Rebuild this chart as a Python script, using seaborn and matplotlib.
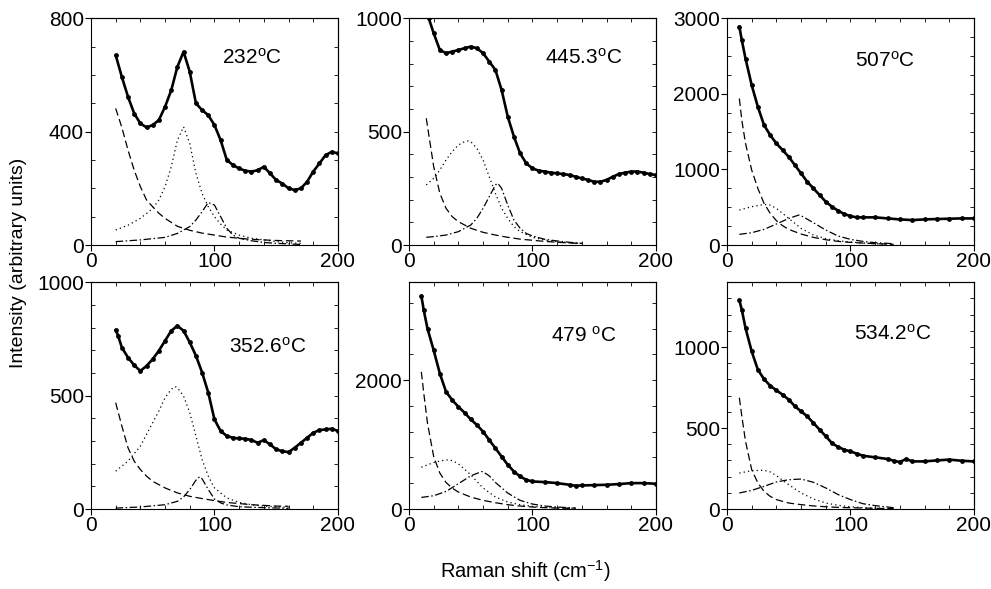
import numpy as np
import pandas as pd
import seaborn as sns
import matplotlib
matplotlib.use("Agg")
import matplotlib.pyplot as plt
from matplotlib.ticker import MultipleLocator

sns.set_style("ticks", {"axes.edgecolor": "black", "text.color": "black",
                        "xtick.color": "black", "ytick.color": "black",
                        "axes.labelcolor": "black"})
plt.rcParams['font.family'] = ['Liberation Sans', 'DejaVu Sans']
plt.rcParams['mathtext.fontset'] = 'custom'
plt.rcParams['mathtext.rm'] = 'Liberation Sans'
plt.rcParams['mathtext.it'] = 'Liberation Sans'

# ---- 232 C ----
x_232 = [20, 25, 30, 35, 40, 45, 50, 55, 60, 65, 70, 75, 80, 85, 90, 95, 100, 105, 110, 115,
         120, 125, 130, 135, 140, 145, 150, 155, 160, 165, 170, 175, 180, 185, 190, 195, 200]
y_232 = [670, 593, 523, 464, 429, 415, 423, 441, 488, 546, 629, 682, 611, 500, 476, 458, 423, 370, 300, 282,
         270, 262, 259, 264, 276, 253, 229, 217, 200, 194, 200, 223, 259, 288, 317, 329, 323]
bgx_232 = [20, 25, 30, 35, 40, 45, 50, 55, 60, 70, 80, 90, 100, 110, 120, 130, 140, 150, 160, 170]
bgy_232 = [482, 415, 335, 264, 206, 159, 135, 112, 94, 66, 52, 42, 35, 28, 24, 20, 18, 16, 15, 14]
p1x_232 = [20, 30, 40, 50, 55, 60, 65, 70, 75, 80, 85, 90, 95, 100, 105, 110, 120, 130, 140, 150, 160, 170]
p1y_232 = [53, 70, 94, 129, 159, 206, 276, 370, 417, 358, 253, 182, 135, 100, 74, 53, 35, 24, 18, 12, 8, 6]
p2x_232 = [20, 40, 60, 70, 80, 85, 90, 95, 100, 105, 110, 115, 120, 130, 140, 150, 160, 170]
p2y_232 = [12, 18, 27, 41, 65, 88, 118, 150, 141, 100, 59, 35, 24, 15, 9, 6, 4, 2]

# ---- 445.3 C ----
x_445 = [16, 20, 25, 30, 35, 40, 45, 50, 55, 60, 65, 70, 75, 80, 85, 90, 95, 100, 105, 110,
         115, 120, 125, 130, 135, 140, 145, 150, 155, 160, 165, 170, 175, 180, 185, 190, 195, 200]
y_445 = [1000, 934, 860, 846, 853, 860, 868, 875, 868, 846, 809, 772, 684, 566, 478, 404, 360, 338, 328, 324,
         319, 316, 313, 309, 301, 294, 287, 279, 279, 287, 301, 313, 319, 324, 324, 319, 313, 309]
bgx_445 = [14, 20, 25, 30, 35, 40, 50, 60, 70, 80, 90, 100, 110, 120, 130, 140]
bgy_445 = [559, 346, 228, 162, 125, 103, 74, 56, 44, 34, 26, 21, 16, 12, 9, 7]
p1x_445 = [14, 20, 25, 30, 35, 40, 45, 48, 50, 55, 60, 65, 70, 75, 80, 85, 90, 100, 110, 120, 130, 140]
p1y_445 = [265, 294, 331, 375, 412, 441, 456, 459, 456, 426, 375, 301, 228, 162, 118, 81, 59, 34, 22, 15, 10, 7]
p2x_445 = [14, 20, 30, 40, 50, 55, 60, 65, 70, 72, 75, 80, 85, 90, 95, 100, 110, 120, 130, 140]
p2y_445 = [34, 37, 44, 59, 88, 118, 162, 213, 265, 272, 250, 176, 110, 74, 51, 40, 25, 18, 12, 7]

# ---- 507 C ----
x_507 = [10, 12, 15, 20, 25, 30, 35, 40, 45, 50, 55, 60, 65, 70, 75, 80, 85, 90, 95, 100,
         105, 110, 120, 130, 140, 150, 160, 170, 180, 190, 200]
y_507 = [2890, 2709, 2467, 2115, 1828, 1586, 1454, 1344, 1256, 1167, 1057, 947, 837, 749, 661, 573, 507, 454, 410, 383,
         366, 366, 366, 352, 339, 330, 339, 344, 348, 352, 352]
bgx_507 = [10, 12, 15, 20, 25, 30, 35, 40, 45, 50, 60, 70, 80, 90, 100, 110, 120, 135]
bgy_507 = [1938, 1652, 1344, 991, 749, 551, 419, 322, 256, 207, 145, 101, 70, 48, 35, 26, 18, 9]
p1x_507 = [10, 20, 30, 35, 40, 50, 60, 70, 80, 90, 100, 110, 120, 135]
p1y_507 = [463, 507, 537, 529, 485, 352, 220, 132, 84, 57, 40, 26, 18, 9]
p2x_507 = [10, 20, 30, 40, 50, 58, 60, 70, 80, 90, 100, 110, 120, 135]
p2y_507 = [141, 163, 207, 278, 352, 396, 388, 295, 198, 119, 75, 48, 31, 18]

# ---- 352.6 C ----
x_352 = [20, 22, 25, 30, 35, 40, 45, 50, 55, 60, 65, 70, 75, 80, 85, 90, 95, 100, 105, 110,
         115, 120, 125, 130, 135, 140, 145, 150, 155, 160, 165, 170, 175, 180, 185, 190, 195, 200]
y_352 = [790, 764, 712, 668, 634, 609, 631, 661, 698, 742, 786, 808, 786, 735, 676, 602, 513, 395, 344, 322,
         314, 311, 310, 304, 292, 304, 285, 263, 255, 251, 270, 292, 314, 336, 348, 351, 354, 344]
bgx_352 = [20, 25, 30, 35, 40, 45, 50, 60, 70, 80, 90, 100, 110, 120, 130, 140, 150, 160]
bgy_352 = [469, 366, 270, 211, 174, 145, 122, 93, 71, 56, 46, 37, 29, 24, 19, 16, 13, 12]
p1x_352 = [20, 30, 40, 50, 55, 60, 65, 68, 70, 75, 80, 85, 90, 95, 100, 110, 120, 130, 140, 150, 160]
p1y_352 = [167, 211, 277, 381, 432, 491, 528, 540, 535, 498, 425, 322, 218, 145, 93, 49, 29, 19, 13, 10, 7]
p2x_352 = [20, 40, 60, 70, 75, 80, 85, 88, 90, 95, 100, 105, 110, 120, 140, 160]
p2y_352 = [4, 9, 19, 34, 53, 86, 127, 142, 133, 86, 44, 27, 18, 10, 6, 3]

# ---- 479 C ----
x_479 = [10, 12, 15, 20, 25, 30, 35, 40, 45, 50, 55, 60, 65, 70, 75, 80, 85, 90, 95, 100,
         110, 120, 130, 135, 140, 150, 160, 170, 180, 190, 200]
y_479 = [3310, 3082, 2799, 2464, 2103, 1820, 1691, 1588, 1495, 1392, 1304, 1201, 1072, 943, 814, 686, 582, 505, 454, 428,
         418, 402, 376, 361, 366, 371, 376, 387, 402, 402, 392]
bgx_479 = [10, 12, 15, 20, 25, 30, 35, 40, 50, 60, 70, 80, 90, 100, 110, 120, 135]
bgy_479 = [2129, 1794, 1330, 814, 557, 412, 325, 263, 186, 134, 98, 67, 46, 31, 21, 15, 10]
p1x_479 = [10, 20, 30, 35, 40, 50, 60, 70, 80, 90, 100, 110, 120, 135]
p1y_479 = [649, 722, 763, 753, 701, 531, 325, 186, 108, 67, 41, 26, 15, 10]
p2x_479 = [10, 20, 30, 40, 50, 59, 60, 65, 70, 80, 90, 100, 110, 120, 135]
p2y_479 = [180, 206, 273, 392, 515, 582, 577, 515, 412, 247, 134, 77, 46, 31, 15]

# ---- 534.2 C ----
x_534 = [10, 12, 15, 20, 25, 30, 35, 40, 45, 50, 55, 60, 65, 70, 75, 80, 85, 90, 95, 100,
         105, 110, 120, 130, 135, 140, 145, 150, 160, 170, 180, 190, 200]
y_534 = [1290, 1230, 1117, 973, 860, 802, 761, 733, 706, 675, 634, 603, 572, 531, 490, 449, 407, 383, 366, 356,
         342, 329, 319, 309, 298, 290, 309, 294, 294, 300, 305, 298, 294]
bgx_534 = [10, 12, 15, 20, 25, 30, 35, 40, 50, 60, 70, 80, 90, 100, 110, 120, 135]
bgy_534 = [687, 573, 418, 243, 161, 109, 78, 58, 37, 27, 19, 14, 10, 8, 6, 4, 2]
p1x_534 = [10, 20, 30, 35, 40, 50, 60, 70, 80, 90, 100, 110, 120, 135]
p1y_534 = [222, 237, 239, 229, 206, 150, 99, 62, 37, 23, 14, 8, 6, 2]
p2x_534 = [10, 20, 30, 40, 50, 60, 70, 80, 90, 100, 110, 120, 135]
p2y_534 = [99, 115, 140, 167, 181, 185, 165, 130, 89, 58, 33, 21, 8]

panels = [
    ("232$^{\\mathrm{o}}$C", (106, 660), 800, 400, 100,
     x_232, y_232, bgx_232, bgy_232, p1x_232, p1y_232, p2x_232, p2y_232),
    ("445.3$^{\\mathrm{o}}$C", (110, 828), 1000, 500, 100,
     x_445, y_445, bgx_445, bgy_445, p1x_445, p1y_445, p2x_445, p2y_445),
    ("507$^{\\mathrm{o}}$C", (104, 2445), 3000, 1000, 250,
     x_507, y_507, bgx_507, bgy_507, p1x_507, p1y_507, p2x_507, p2y_507),
    ("352.6$^{\\mathrm{o}}$C", (112, 717), 1000, 500, 100,
     x_352, y_352, bgx_352, bgy_352, p1x_352, p1y_352, p2x_352, p2y_352),
    ("479 $^{\\mathrm{o}}$C", (115, 2694), 3520, 2000, 400,
     x_479, y_479, bgx_479, bgy_479, p1x_479, p1y_479, p2x_479, p2y_479),
    ("534.2$^{\\mathrm{o}}$C", (103, 1084), 1400, 500, 100,
     x_534, y_534, bgx_534, bgy_534, p1x_534, p1y_534, p2x_534, p2y_534),
]

fig = plt.figure(figsize=(9.91, 5.89), dpi=100)
lefts = [0.0918, 0.4127, 0.7336]
bottoms = [0.584, 0.1358]
w, h = 0.2492, 0.3850

for i, (label, pos, ytop, ymaj, ymin, dx, dy, bx, by, ax1, ay1, ax2, ay2) in enumerate(panels):
    ax = fig.add_axes([lefts[i % 3], bottoms[i // 3], w, h])
    df = pd.DataFrame({"x": dx, "y": dy})
    sns.lineplot(data=df, x="x", y="y", ax=ax, color="black", lw=1.9, sort=False)
    sns.scatterplot(data=df, x="x", y="y", ax=ax, color="black", s=12, linewidth=0)
    sns.lineplot(x=bx, y=by, ax=ax, color="black", lw=0.9, linestyle=(0, (6, 3)))
    sns.lineplot(x=ax1, y=ay1, ax=ax, color="black", lw=0.9, linestyle=(0, (1, 2.5)))
    sns.lineplot(x=ax2, y=ay2, ax=ax, color="black", lw=0.9, linestyle=(0, (6, 2, 1.2, 2)))
    ax.set_xlim(0, 200)
    ax.set_ylim(0, ytop)
    ax.set_xlabel("")
    ax.set_ylabel("")
    ax.xaxis.set_major_locator(MultipleLocator(100))
    ax.xaxis.set_minor_locator(MultipleLocator(20))
    ax.yaxis.set_major_locator(MultipleLocator(ymaj))
    ax.yaxis.set_minor_locator(MultipleLocator(ymin))
    ax.tick_params(which="major", direction="out", length=4, width=0.8, labelsize=15, pad=1)
    ax.tick_params(which="minor", direction="in", length=3, width=0.6)
    for s in ax.spines.values():
        s.set_linewidth(0.8)
        s.set_visible(True)
    # top / right ticks pointing in
    top = ax.secondary_xaxis("top")
    top.xaxis.set_major_locator(MultipleLocator(100))
    top.xaxis.set_minor_locator(MultipleLocator(20))
    top.tick_params(which="both", direction="in", length=3, width=0.6, labeltop=False)
    right = ax.secondary_yaxis("right")
    right.yaxis.set_major_locator(MultipleLocator(ymaj))
    right.yaxis.set_minor_locator(MultipleLocator(ymin))
    right.tick_params(which="both", direction="in", length=3, width=0.6, labelright=False)
    ax.text(pos[0], pos[1], label, fontsize=15, va="center", ha="left", color="black")

fig.text(0.0185, 0.553, "Intensity (arbitrary units)", rotation=90, fontsize=14,
         ha="center", va="center", color="black")
fig.text(0.530, 0.030, "Raman shift (cm$^{-1}$)", fontsize=14.5, ha="center", va="center",
         color="black")

fig.savefig("out.png", dpi=100)
